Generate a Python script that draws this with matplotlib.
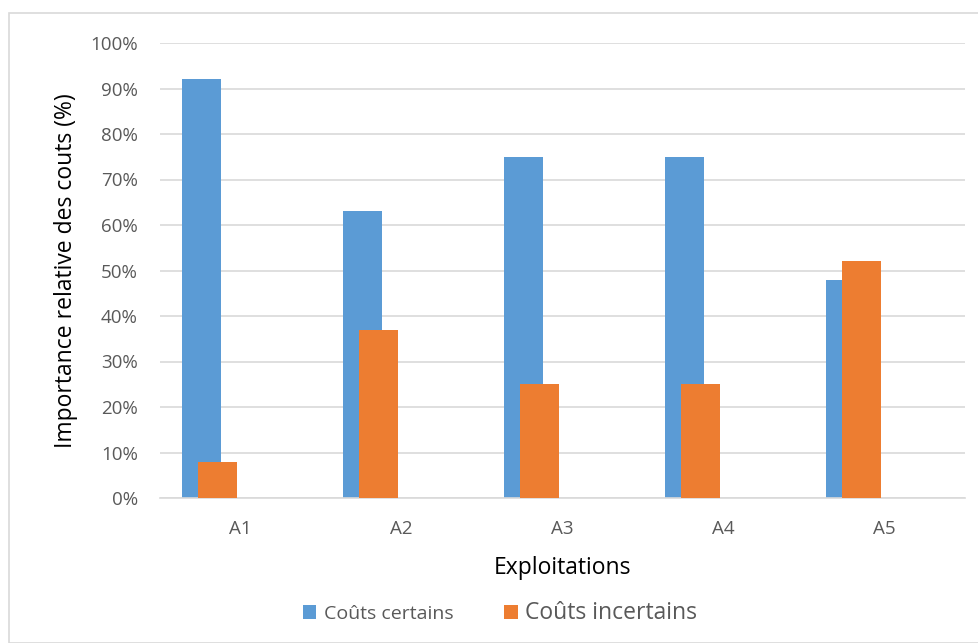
import matplotlib.pyplot as plt
import numpy as np
from matplotlib.patches import Rectangle

categories = ['A1', 'A2', 'A3', 'A4', 'A5']
couts_certains = [92, 63, 75, 75, 48]
couts_incertains = [8, 37, 25, 25, 52]
yticks = [0, 10, 20, 30, 40, 50, 60, 70, 80, 90, 100]

blue = '#5b9bd5'
orange = '#ed7d31'
grey = '#595959'

plt.rcParams['font.family'] = ['Open Sans', 'DejaVu Sans']

fig = plt.figure(figsize=(9.79, 6.43), dpi=100)
ax = fig.add_axes([160 / 979, 1 - 498 / 643, 805 / 979, 455 / 643])

x = np.arange(len(categories))
w = 0.242
ax.bar(x - 0.242, couts_certains, w, color=blue, label='Coûts certains', zorder=2)
ax.bar(x - 0.143, couts_incertains, w, color=orange, label='Coûts incertains', zorder=3)

ax.set_xlim(-0.5, 4.5)
ax.set_ylim(0, 100)
ax.set_yticks(yticks)
ax.set_yticklabels(['{0}%'.format(v) for v in yticks])
ax.set_xticks(x)
ax.set_xticklabels(categories)
ax.tick_params(axis='both', length=0, labelsize=13.5, labelcolor=grey)
ax.tick_params(axis='y', pad=16)
ax.tick_params(axis='x', pad=16)
ax.grid(axis='y', color='#d9d9d9', linewidth=1.2, zorder=0)
ax.set_axisbelow(True)
for s in ['top', 'right', 'left']:
    ax.spines[s].set_visible(False)
ax.spines['bottom'].set_color('#d9d9d9')
ax.spines['bottom'].set_linewidth(1.2)

ax.set_ylabel('Importance relative des couts (%)', fontsize=16.5, labelpad=9)
ax.set_xlabel('Exploitations', fontsize=16.5, labelpad=13)

leg = fig.legend(loc='center', bbox_to_anchor=(500 / 979, 1 - 613 / 643), ncol=2,
                 frameon=False, handlelength=0.7, handleheight=0.7,
                 handletextpad=0.4, columnspacing=2.6, fontsize=14)
for t in leg.get_texts():
    t.set_color(grey)
leg.get_texts()[1].set_fontsize(16.5)

fig.patches.append(Rectangle((9 / 979, 0), 1, 1 - 13 / 643, transform=fig.transFigure,
                             fill=False, edgecolor='#d9d9d9', linewidth=1.2))

plt.savefig('out.png', dpi=100)
